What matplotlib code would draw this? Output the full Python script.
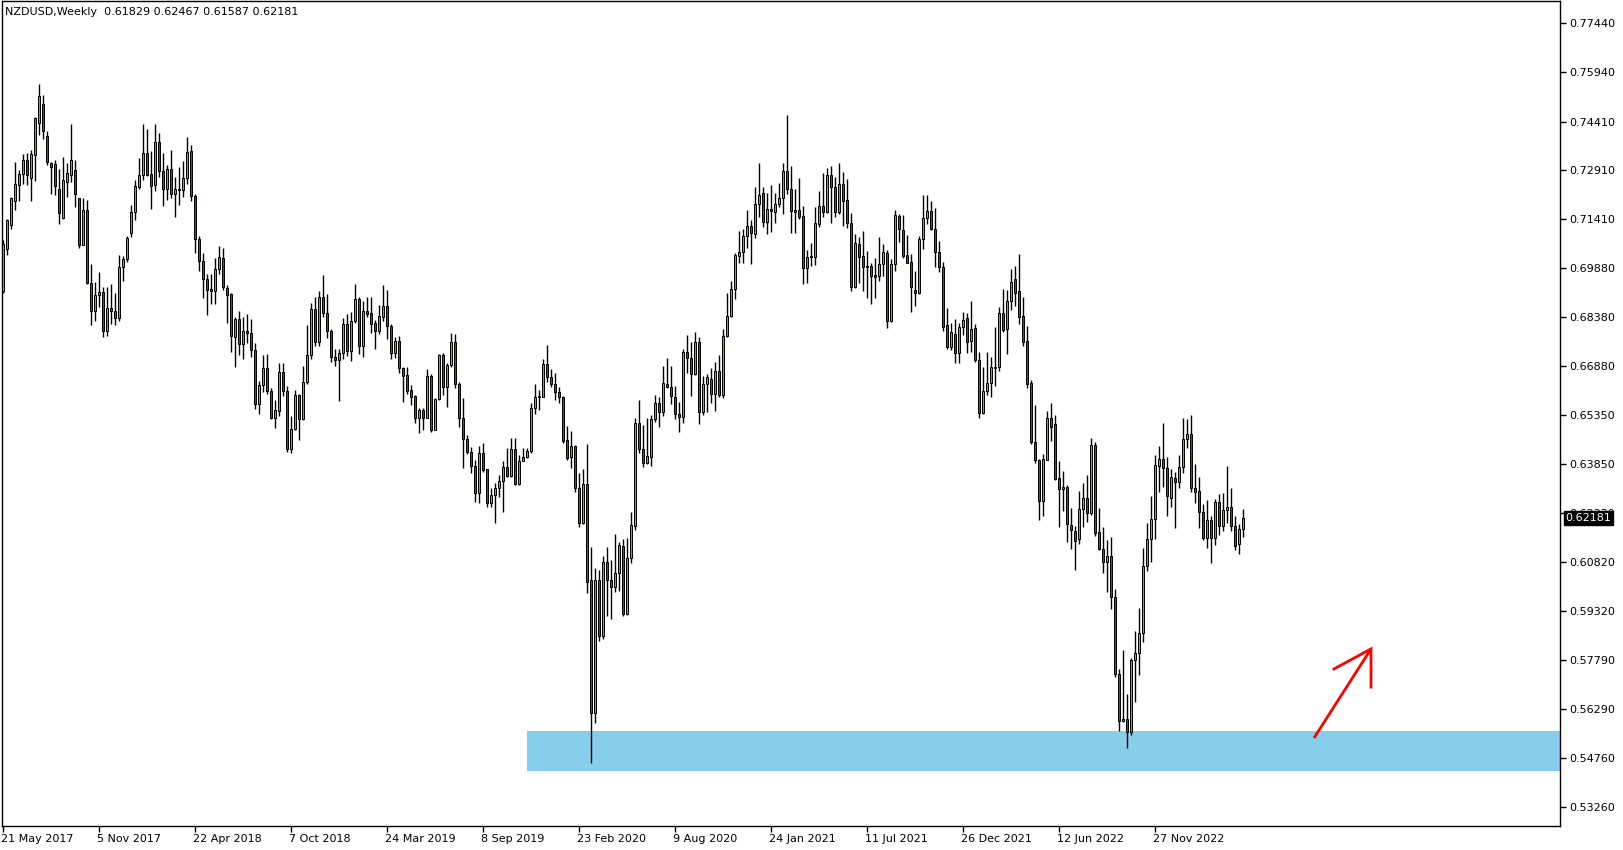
import matplotlib
matplotlib.use("Agg")
import matplotlib.pyplot as plt
import numpy as np

# weekly NZDUSD bars (bar 0 = week of 21 May 2017)
title = "NZDUSD,Weekly  0.61829 0.62467 0.61587 0.62181"

opens = [
    0.6918, 0.7049, 0.7123, 0.7196, 0.7246, 0.7279, 0.7324, 0.7268, 0.7339, 0.7438,
    0.7497, 0.7398, 0.7312, 0.7309, 0.7234, 0.7145, 0.7256, 0.7275, 0.7293, 0.7204,
    0.7061, 0.7169, 0.6944, 0.6856, 0.6906, 0.6916, 0.6796, 0.6867, 0.6858, 0.6835,
    0.6992, 0.7018, 0.7098, 0.7162, 0.7240, 0.7275, 0.7343, 0.7279, 0.7247, 0.7377,
    0.7288, 0.7234, 0.7295, 0.7217, 0.7232, 0.7230, 0.7266, 0.7350, 0.7212, 0.7080,
    0.7012, 0.6956, 0.6926, 0.6919, 0.6985, 0.7019, 0.6929, 0.6908, 0.6777, 0.6831,
    0.6754, 0.6794, 0.6790, 0.6737, 0.6571, 0.6627, 0.6682, 0.6611, 0.6528, 0.6549,
    0.6667, 0.6611, 0.6432, 0.6494, 0.6597, 0.6522, 0.6639, 0.6720, 0.6862, 0.6762,
    0.6899, 0.6852, 0.6794, 0.6714, 0.6707, 0.6726, 0.6818, 0.6734, 0.6827, 0.6893,
    0.6750, 0.6858, 0.6851, 0.6820, 0.6796, 0.6839, 0.6872, 0.6811, 0.6728, 0.6764,
    0.6680, 0.6659, 0.6613, 0.6594, 0.6528, 0.6551, 0.6528, 0.6656, 0.6491, 0.6584,
    0.6721, 0.6623, 0.6690, 0.6760, 0.6633, 0.6525, 0.6461, 0.6421, 0.6378, 0.6296,
    0.6417, 0.6368, 0.6263, 0.6289, 0.6312, 0.6331, 0.6374, 0.6348, 0.6430, 0.6323,
    0.6395, 0.6405, 0.6426, 0.6556, 0.6590, 0.6592, 0.6693, 0.6652, 0.6630, 0.6606,
    0.6592, 0.6458, 0.6405, 0.6440, 0.6309, 0.6201, 0.6323, 0.6026, 0.5615, 0.6026,
    0.5854, 0.6081, 0.6028, 0.6006, 0.6047, 0.6131, 0.5921, 0.6093, 0.6194, 0.6510,
    0.6430, 0.6388, 0.6407, 0.6522, 0.6572, 0.6546, 0.6633, 0.6621, 0.6590, 0.6538,
    0.6531, 0.6729, 0.6713, 0.6661, 0.6760, 0.6544, 0.6633, 0.6646, 0.6602, 0.6672,
    0.6597, 0.6779, 0.6842, 0.6924, 0.7027, 0.7038, 0.7088, 0.7119, 0.7094, 0.7187,
    0.7220, 0.7130, 0.7172, 0.7162, 0.7186, 0.7204, 0.7289, 0.7232, 0.7168, 0.7168,
    0.7150, 0.6988, 0.7022, 0.7024, 0.7125, 0.7182, 0.7163, 0.7276, 0.7238, 0.7163,
    0.7248, 0.7199, 0.7127, 0.6930, 0.7063, 0.7026, 0.6996, 0.6996, 0.6968, 0.6966,
    0.7001, 0.7035, 0.6827, 0.7001, 0.7150, 0.7107, 0.7030, 0.7007, 0.6923, 0.6912,
    0.7078, 0.7143, 0.7166, 0.7109, 0.7038, 0.6992, 0.6813, 0.6747, 0.6787, 0.6726,
    0.6808, 0.6834, 0.6765, 0.6804, 0.6704, 0.6541, 0.6611, 0.6634, 0.6685, 0.6683,
    0.6850, 0.6800, 0.6889, 0.6954, 0.6917, 0.6842, 0.6764, 0.6634, 0.6454, 0.6397,
    0.6271, 0.6397, 0.6526, 0.6507, 0.6340, 0.6306, 0.6313, 0.6196, 0.6178, 0.6152,
    0.6245, 0.6279, 0.6234, 0.6443, 0.6174, 0.6122, 0.6083, 0.6100, 0.5975, 0.5738,
    0.5592, 0.5599, 0.5556, 0.5779, 0.5800, 0.5864, 0.6070, 0.6152, 0.6214, 0.6379,
    0.6399, 0.6371, 0.6279, 0.6340, 0.6330, 0.6374, 0.6461, 0.6476, 0.6309, 0.6301,
    0.6235, 0.6155, 0.6212, 0.6157, 0.6266, 0.6194, 0.6244, 0.6251, 0.6194, 0.6138,
    0.61829,
]
highs = [
    0.7075, 0.7142, 0.7209, 0.7317, 0.7291, 0.7342, 0.7344, 0.7353, 0.7456, 0.7557,
    0.7523, 0.7413, 0.7317, 0.7322, 0.7296, 0.7332, 0.7312, 0.7433, 0.7324, 0.7207,
    0.7204, 0.7198, 0.7001, 0.6946, 0.6977, 0.6930, 0.6932, 0.6941, 0.6912, 0.7031,
    0.7028, 0.7089, 0.7183, 0.7260, 0.7328, 0.7434, 0.7417, 0.7350, 0.7434, 0.7405,
    0.7343, 0.7307, 0.7353, 0.7269, 0.7300, 0.7320, 0.7393, 0.7369, 0.7217, 0.7088,
    0.7037, 0.6970, 0.6970, 0.7019, 0.7057, 0.7050, 0.6936, 0.6913, 0.6838, 0.6857,
    0.6838, 0.6849, 0.6832, 0.6758, 0.6640, 0.6720, 0.6723, 0.6618, 0.6582, 0.6695,
    0.6695, 0.6625, 0.6533, 0.6612, 0.6602, 0.6687, 0.6813, 0.6882, 0.6901, 0.6918,
    0.6968, 0.6909, 0.6800, 0.6741, 0.6741, 0.6834, 0.6847, 0.6855, 0.6940, 0.6901,
    0.6888, 0.6899, 0.6901, 0.6829, 0.6875, 0.6937, 0.6921, 0.6818, 0.6777, 0.6780,
    0.6685, 0.6685, 0.6628, 0.6597, 0.6556, 0.6556, 0.6677, 0.6661, 0.6587, 0.6723,
    0.6726, 0.6697, 0.6788, 0.6786, 0.6639, 0.6587, 0.6474, 0.6438, 0.6397, 0.6440,
    0.6448, 0.6369, 0.6309, 0.6325, 0.6351, 0.6395, 0.6433, 0.6464, 0.6464, 0.6412,
    0.6433, 0.6435, 0.6572, 0.6633, 0.6613, 0.6709, 0.6752, 0.6677, 0.6664, 0.6623,
    0.6595, 0.6502, 0.6486, 0.6443, 0.6356, 0.6368, 0.6446, 0.6127, 0.6065, 0.6059,
    0.6100, 0.6127, 0.6088, 0.6170, 0.6145, 0.6152, 0.6155, 0.6237, 0.6525, 0.6582,
    0.6505, 0.6528, 0.6536, 0.6597, 0.6590, 0.6687, 0.6711, 0.6687, 0.6625, 0.6577,
    0.6741, 0.6783, 0.6762, 0.6793, 0.6775, 0.6656, 0.6662, 0.6680, 0.6700, 0.6721,
    0.6800, 0.6913, 0.6949, 0.7035, 0.7104, 0.7109, 0.7168, 0.7138, 0.7238, 0.7315,
    0.7238, 0.7222, 0.7246, 0.7222, 0.7251, 0.7312, 0.7462, 0.7304, 0.7232, 0.7266,
    0.7181, 0.7045, 0.7066, 0.7179, 0.7228, 0.7284, 0.7297, 0.7304, 0.7269, 0.7312,
    0.7287, 0.7263, 0.7158, 0.7094, 0.7084, 0.7104, 0.7043, 0.7004, 0.7020, 0.7084,
    0.7063, 0.7045, 0.7016, 0.7168, 0.7156, 0.7153, 0.7091, 0.7033, 0.6980, 0.7089,
    0.7215, 0.7215, 0.7197, 0.7174, 0.7074, 0.7009, 0.6865, 0.6819, 0.6831, 0.6819,
    0.6853, 0.6852, 0.6888, 0.6817, 0.6731, 0.6683, 0.6731, 0.6716, 0.6806, 0.6868,
    0.6924, 0.6922, 0.6986, 0.6996, 0.7033, 0.6899, 0.6811, 0.6644, 0.6567, 0.6399,
    0.6416, 0.6548, 0.6572, 0.6536, 0.6395, 0.6364, 0.6320, 0.6248, 0.6193, 0.6301,
    0.6327, 0.6351, 0.6464, 0.6454, 0.6248, 0.6189, 0.6150, 0.6160, 0.5999, 0.5751,
    0.5810, 0.5676, 0.5785, 0.5869, 0.5939, 0.6124, 0.6201, 0.6286, 0.6412, 0.6440,
    0.6512, 0.6405, 0.6368, 0.6361, 0.6412, 0.6525, 0.6522, 0.6536, 0.6386, 0.6345,
    0.6261, 0.6273, 0.6224, 0.6278, 0.6292, 0.6294, 0.6378, 0.6312, 0.6224, 0.6199,
    0.62467,
]
lows = [
    0.6912, 0.7031, 0.7111, 0.7167, 0.7196, 0.7250, 0.7245, 0.7196, 0.7258, 0.7399,
    0.7386, 0.7306, 0.7219, 0.7214, 0.7126, 0.7142, 0.7209, 0.7255, 0.7178, 0.7052,
    0.7059, 0.6941, 0.6812, 0.6827, 0.6869, 0.6776, 0.6781, 0.6817, 0.6812, 0.6827,
    0.6949, 0.7008, 0.7085, 0.7137, 0.7232, 0.7261, 0.7273, 0.7173, 0.7228, 0.7269,
    0.7180, 0.7199, 0.7204, 0.7147, 0.7184, 0.7209, 0.7250, 0.7197, 0.7036, 0.6980,
    0.6896, 0.6845, 0.6878, 0.6878, 0.6970, 0.6921, 0.6820, 0.6730, 0.6684, 0.6720,
    0.6710, 0.6758, 0.6715, 0.6555, 0.6540, 0.6607, 0.6602, 0.6523, 0.6496, 0.6532,
    0.6594, 0.6422, 0.6419, 0.6489, 0.6458, 0.6520, 0.6630, 0.6708, 0.6750, 0.6750,
    0.6839, 0.6773, 0.6700, 0.6687, 0.6580, 0.6710, 0.6718, 0.6703, 0.6821, 0.6724,
    0.6716, 0.6837, 0.6790, 0.6741, 0.6786, 0.6827, 0.6769, 0.6710, 0.6713, 0.6664,
    0.6577, 0.6601, 0.6567, 0.6512, 0.6479, 0.6491, 0.6526, 0.6484, 0.6489, 0.6582,
    0.6597, 0.6561, 0.6685, 0.6620, 0.6500, 0.6373, 0.6415, 0.6356, 0.6268, 0.6265,
    0.6361, 0.6251, 0.6251, 0.6201, 0.6284, 0.6237, 0.6345, 0.6345, 0.6320, 0.6320,
    0.6395, 0.6402, 0.6420, 0.6539, 0.6551, 0.6592, 0.6639, 0.6623, 0.6582, 0.6574,
    0.6450, 0.6397, 0.6373, 0.6299, 0.6189, 0.6199, 0.5987, 0.5462, 0.5586, 0.5839,
    0.5844, 0.5916, 0.5907, 0.5990, 0.5992, 0.5916, 0.5918, 0.6080, 0.6181, 0.6419,
    0.6376, 0.6386, 0.6378, 0.6515, 0.6500, 0.6533, 0.6618, 0.6570, 0.6522, 0.6484,
    0.6512, 0.6664, 0.6595, 0.6659, 0.6508, 0.6536, 0.6546, 0.6572, 0.6549, 0.6592,
    0.6587, 0.6775, 0.6839, 0.6893, 0.7004, 0.7004, 0.7050, 0.7001, 0.7081, 0.7148,
    0.7117, 0.7093, 0.7102, 0.7129, 0.7179, 0.7155, 0.7217, 0.7096, 0.7098, 0.7140,
    0.6939, 0.6942, 0.6996, 0.6999, 0.7117, 0.7146, 0.7160, 0.7129, 0.7146, 0.7155,
    0.7120, 0.7112, 0.6920, 0.6927, 0.6944, 0.6920, 0.6896, 0.6878, 0.6898, 0.6948,
    0.6966, 0.6803, 0.6823, 0.6981, 0.7071, 0.7020, 0.7004, 0.6855, 0.6873, 0.6909,
    0.7047, 0.7126, 0.7107, 0.6994, 0.6976, 0.6796, 0.6738, 0.6736, 0.6697, 0.6697,
    0.6783, 0.6728, 0.6731, 0.6700, 0.6526, 0.6538, 0.6598, 0.6590, 0.6626, 0.6673,
    0.6793, 0.6724, 0.6860, 0.6872, 0.6817, 0.6749, 0.6620, 0.6445, 0.6389, 0.6212,
    0.6225, 0.6397, 0.6457, 0.6335, 0.6191, 0.6240, 0.6143, 0.6121, 0.6059, 0.6138,
    0.6189, 0.6207, 0.6227, 0.6162, 0.6119, 0.6047, 0.5990, 0.5936, 0.5726, 0.5561,
    0.5589, 0.5507, 0.5548, 0.5651, 0.5733, 0.5836, 0.6055, 0.6083, 0.6152, 0.6299,
    0.6314, 0.6225, 0.6253, 0.6188, 0.6311, 0.6358, 0.6433, 0.6299, 0.6265, 0.6188,
    0.6150, 0.6126, 0.6080, 0.6136, 0.6165, 0.6178, 0.6203, 0.6178, 0.6119, 0.6107,
    0.61587,
]
closes = [
    0.7064, 0.7137, 0.7204, 0.7250, 0.7281, 0.7324, 0.7275, 0.7342, 0.7451, 0.7520,
    0.7413, 0.7317, 0.7301, 0.7242, 0.7160, 0.7260, 0.7284, 0.7324, 0.7219, 0.7061,
    0.7169, 0.6943, 0.6858, 0.6907, 0.6916, 0.6796, 0.6867, 0.6856, 0.6836, 0.6992,
    0.7018, 0.7083, 0.7162, 0.7242, 0.7275, 0.7343, 0.7276, 0.7244, 0.7377, 0.7288,
    0.7234, 0.7295, 0.7217, 0.7232, 0.7230, 0.7266, 0.7346, 0.7212, 0.7080, 0.7012,
    0.6956, 0.6922, 0.6919, 0.6985, 0.7022, 0.6931, 0.6905, 0.6780, 0.6831, 0.6754,
    0.6794, 0.6789, 0.6735, 0.6571, 0.6627, 0.6682, 0.6611, 0.6528, 0.6551, 0.6667,
    0.6611, 0.6432, 0.6494, 0.6597, 0.6522, 0.6639, 0.6721, 0.6862, 0.6762, 0.6899,
    0.6852, 0.6794, 0.6714, 0.6707, 0.6726, 0.6818, 0.6734, 0.6827, 0.6893, 0.6750,
    0.6858, 0.6849, 0.6816, 0.6796, 0.6841, 0.6872, 0.6811, 0.6728, 0.6764, 0.6680,
    0.6657, 0.6611, 0.6592, 0.6528, 0.6551, 0.6528, 0.6656, 0.6491, 0.6584, 0.6721,
    0.6623, 0.6690, 0.6760, 0.6633, 0.6525, 0.6461, 0.6423, 0.6378, 0.6296, 0.6417,
    0.6366, 0.6263, 0.6289, 0.6312, 0.6331, 0.6374, 0.6348, 0.6430, 0.6323, 0.6395,
    0.6405, 0.6426, 0.6556, 0.6590, 0.6594, 0.6693, 0.6652, 0.6630, 0.6606, 0.6590,
    0.6456, 0.6402, 0.6440, 0.6309, 0.6201, 0.6323, 0.6021, 0.5615, 0.6028, 0.5854,
    0.6081, 0.6028, 0.6006, 0.6047, 0.6134, 0.5921, 0.6093, 0.6196, 0.6510, 0.6430,
    0.6388, 0.6409, 0.6522, 0.6572, 0.6546, 0.6636, 0.6621, 0.6595, 0.6538, 0.6531,
    0.6731, 0.6713, 0.6661, 0.6760, 0.6544, 0.6633, 0.6652, 0.6602, 0.6672, 0.6597,
    0.6779, 0.6842, 0.6924, 0.7030, 0.7040, 0.7088, 0.7119, 0.7096, 0.7187, 0.7215,
    0.7132, 0.7172, 0.7165, 0.7186, 0.7204, 0.7289, 0.7232, 0.7165, 0.7163, 0.7148,
    0.6988, 0.7022, 0.7026, 0.7127, 0.7182, 0.7163, 0.7276, 0.7238, 0.7163, 0.7248,
    0.7197, 0.7127, 0.6930, 0.7066, 0.7022, 0.6994, 0.6992, 0.6966, 0.6963, 0.7001,
    0.7038, 0.6827, 0.7001, 0.7153, 0.7109, 0.7025, 0.7006, 0.6930, 0.6912, 0.7078,
    0.7143, 0.7166, 0.7109, 0.7038, 0.6992, 0.6808, 0.6747, 0.6791, 0.6726, 0.6806,
    0.6829, 0.6762, 0.6800, 0.6704, 0.6541, 0.6611, 0.6634, 0.6685, 0.6682, 0.6850,
    0.6798, 0.6889, 0.6947, 0.6911, 0.6839, 0.6762, 0.6632, 0.6452, 0.6397, 0.6271,
    0.6399, 0.6526, 0.6500, 0.6338, 0.6306, 0.6313, 0.6198, 0.6181, 0.6147, 0.6245,
    0.6279, 0.6234, 0.6443, 0.6171, 0.6122, 0.6081, 0.6101, 0.5975, 0.5738, 0.5592,
    0.5599, 0.5558, 0.5779, 0.5800, 0.5862, 0.6070, 0.6152, 0.6215, 0.6381, 0.6399,
    0.6371, 0.6287, 0.6343, 0.6330, 0.6374, 0.6461, 0.6476, 0.6312, 0.6299, 0.6235,
    0.6155, 0.6212, 0.6157, 0.6266, 0.6194, 0.6244, 0.6251, 0.6194, 0.6132, 0.6183,
    0.62181,
]

date_labels = ["21 May 2017", "5 Nov 2017", "22 Apr 2018", "7 Oct 2018", "24 Mar 2019",
               "8 Sep 2019", "23 Feb 2020", "9 Aug 2020", "24 Jan 2021", "11 Jul 2021",
               "26 Dec 2021", "12 Jun 2022", "27 Nov 2022"]
weeks_per_label = 24

price_ticks = [0.77440, 0.75940, 0.74410, 0.72910, 0.71410, 0.69880, 0.68380, 0.66880,
               0.65350, 0.63850, 0.62330, 0.60820, 0.59320, 0.57790, 0.56290, 0.54760,
               0.53260]

# support zone (bar index where it starts, price band)
zone_start = 131
zone_top, zone_bottom = 0.5561, 0.5437

# hand drawn arrow: shaft start, tip, and the two wing ends
arrow_x = [327.75, 342.0]
arrow_y = [0.5539, 0.5814]
wing_x = [332.75, 342.0, 342.0]
wing_y = [0.5752, 0.5814, 0.5696]

bull = "#2ad82a"
bear = "#d81818"

o = np.array(opens)
h = np.array(highs)
l = np.array(lows)
c = np.array(closes)
idx = np.arange(len(o))

W, H = 1624, 850
fig = plt.figure(figsize=(W / 100, H / 100), dpi=100)
ax = fig.add_axes([2 / W, 24.5 / H, 1558 / W, 824.5 / H])
ax.set_xlim(-0.25, 389.25)
ax.set_ylim(0.5269, 0.78134)

# support zone
ax.fill_between([zone_start, 400], zone_bottom, zone_top, color="#87ceeb", lw=0, zorder=1)

# candles
ax.vlines(idx, l, h, color="black", lw=1.0, zorder=2)
body_lo = np.minimum(o, c)
body_hi = np.maximum(o, c)
colors = np.where(c >= o, bull, bear)
ax.bar(idx, body_hi - body_lo, bottom=body_lo, width=0.62, color=colors,
       edgecolor="black", linewidth=0.7, zorder=3)

# arrow
ax.plot(arrow_x, arrow_y, color="red", lw=2, solid_capstyle="butt", zorder=4)
ax.plot(wing_x, wing_y, color="red", lw=2, solid_joinstyle="miter", zorder=4)

# axes styling
for s in ax.spines.values():
    s.set_color("black")
    s.set_linewidth(1)
ax.yaxis.tick_right()
ax.set_yticks(price_ticks)
ax.set_yticklabels([f"{p:.5f}" for p in price_ticks])
ax.tick_params(axis="y", direction="out", length=4, width=1, pad=3, labelsize=8,
               colors="black")
ax.set_xticks(idx[::weeks_per_label][:len(date_labels)])
ax.set_xticklabels(date_labels, ha="left")
ax.tick_params(axis="x", direction="out", length=4, width=1, pad=2, labelsize=8,
               colors="black")
for t in ax.get_xticklabels():
    t.set_transform(t.get_transform() + matplotlib.transforms.ScaledTranslation(-2 / 100, 0, fig.dpi_scale_trans))

# last price marker (covers the 0.62330 label, as in the terminal)
ax.annotate(f"{closes[-1]:.5f}", xy=(1.0, closes[-1]), xycoords=("axes fraction", "data"),
            xytext=(4, 0), textcoords="offset points", ha="left", va="center",
            fontsize=8, color="white", annotation_clip=False, zorder=10,
            bbox=dict(boxstyle="square,pad=0.15", fc="black", ec="black"))

fig.text(5 / W, 1 - 12 / H, title, fontsize=8, ha="left", va="center")

fig.savefig("out.png", dpi=100, facecolor="white")
